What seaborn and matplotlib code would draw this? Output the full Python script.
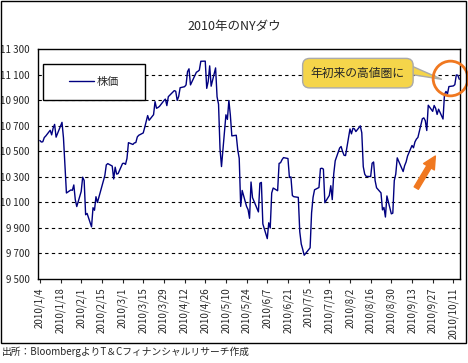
import pandas as pd
import matplotlib
matplotlib.use("Agg")
import matplotlib.pyplot as plt
import matplotlib.dates as mdates
import matplotlib.ticker as mticker
from matplotlib.patches import Rectangle, Polygon
import seaborn as sns

# NY Dow closes (Jan 4 - Oct 15, 2010)
jan = [10584, 10572, 10574, 10607, 10619, 10664, 10628, 10681, 10710, 10610,
       10726, 10604, 10390, 10173, 10197, 10194, 10236, 10121, 10067]
feb = [10185, 10297, 10271, 10003, 10013, 9908, 10058, 10038, 10144, 10099,
       10268, 10309, 10393, 10403, 10384, 10283, 10375, 10321, 10325]
mar = [10404, 10406, 10397, 10444, 10567, 10553, 10565, 10568, 10612, 10625,
       10643, 10686, 10734, 10779, 10742, 10786, 10888, 10836, 10842, 10851,
       10896, 10908, 10857]
apr = [10927, 10974, 10970, 10898, 10928, 10997, 11005, 11019, 11123, 11145,
       11019, 11092, 11118, 11125, 11135, 11204, 11205, 10992, 11046, 11168, 11009]
may = [11152, 10926, 10868, 10520, 10380, 10785, 10749, 10897, 10782, 10620,
       10625, 10511, 10444, 10068, 10193, 10067, 10043, 9975, 10259, 10137]
jun = [10025, 10250, 10256, 9931, 9816, 9940, 9899, 10173, 10212, 10191,
       10405, 10410, 10434, 10450, 10443, 10294, 10299, 10153, 10144, 10139,
       9870, 9774]
jul = [9732, 9686, 9744, 10018, 10139, 10198, 10216, 10364, 10367, 10360,
       10097, 10154, 10230, 10121, 10322, 10425, 10525, 10537, 10497, 10468, 10466]
aug = [10674, 10636, 10680, 10675, 10654, 10698, 10644, 10379, 10320, 10303,
       10302, 10406, 10416, 10271, 10214, 10174, 10041, 10060, 9985, 10150,
       10010, 10015]
sep = [10270, 10321, 10448, 10341, 10387, 10416, 10463, 10545, 10527, 10573,
       10595, 10608, 10754, 10761, 10739, 10662, 10860, 10812, 10858, 10836, 10788]
oct_ = [10829, 10752, 10944, 10968, 10948, 11006, 11011, 11021, 11097, 11095, 11063]

holidays = ["2010-01-18", "2010-02-15", "2010-04-02", "2010-05-31",
            "2010-07-05", "2010-09-06"]
dates = pd.bdate_range("2010-01-04", "2010-10-15", freq="C", holidays=holidays)
values = jan + feb + mar + apr + may + jun + jul + aug + sep + oct_
df = pd.DataFrame({"date": dates, "株価": values})

sns.set_style("white")
plt.rcParams["font.family"] = ["Noto Sans CJK JP", "DejaVu Sans"]

fig = plt.figure(figsize=(4.68, 3.63), dpi=100)
ax = fig.add_axes([38 / 468, 1 - 279 / 363, 422 / 468, 230 / 363])

sns.lineplot(data=df, x="date", y="株価", ax=ax, color="#000080", lw=1, legend=False)

ax.set_ylim(9500, 11300)
ax.set_yticks(range(9500, 11301, 200))
ax.yaxis.set_major_formatter(mticker.FuncFormatter(
    lambda v, p: f"{int(v) // 1000} {int(v) % 1000:03d}"))
ax.set_xlim(pd.Timestamp("2010-01-02 18:00"), pd.Timestamp("2010-10-15 12:00"))
xt = pd.date_range("2010-01-04", "2010-10-11", freq="14D")
ax.set_xticks(xt)
ax.set_xticklabels([f"{d.year}/{d.month}/{d.day}" for d in xt], rotation=90, fontsize=7)
ax.tick_params(axis="y", labelsize=7, length=0, pad=6)
ax.tick_params(axis="x", direction="out", length=3, width=0.8, bottom=True, pad=3)
ax.set_xlabel("")
ax.set_ylabel("")
for v in range(9700, 11300, 200):
    ax.axhline(v, color="black", lw=0.8, ls=(0, (3, 3)), zorder=1)
for s in ax.spines.values():
    s.set_color("black")
    s.set_linewidth(1)

# legend box
ax.add_patch(Rectangle((0.012, 0.778), 0.242, 0.157, transform=ax.transAxes,
                       fc="white", ec="black", lw=1, zorder=4))
ax.legend(handles=[plt.Line2D([], [], color="#000080", lw=1)], labels=["株価"],
          loc="center", bbox_to_anchor=(0.133, 0.857), frameon=False, fontsize=8,
          handlelength=2.2, handletextpad=0.3).set_zorder(5)

orange = "#F07820"
yellow = "#F5D54A"
# callout tail
ax.add_patch(Polygon([(0.846, 0.958), (0.957, 0.868), (0.882, 0.89)], closed=True,
                     transform=ax.transAxes, fc=yellow, ec="#AAAAAA", lw=1,
                     zorder=5, clip_on=False))
ax.text(0.758, 0.895, "年初来の高値圏に", transform=ax.transAxes, fontsize=8.5,
        ha="center", va="center", zorder=6,
        bbox=dict(boxstyle="round,pad=0.7,rounding_size=0.6", fc=yellow, ec="#AAAAAA", lw=1))
ax.plot([0.977], [0.875], "o", transform=ax.transAxes, ms=25, mfc="none",
        mec=orange, mew=2, clip_on=False, zorder=7)
ax.annotate("", xy=(0.945, 0.545), xycoords="axes fraction",
            xytext=(0.893, 0.385), textcoords="axes fraction", zorder=6,
            arrowprops=dict(arrowstyle="simple,head_length=0.9,head_width=0.9,tail_width=0.35",
                            fc=orange, ec=orange))

fig.suptitle("2010年のNYダウ", y=1 - 20 / 363, fontsize=9)
fig.patches.append(Rectangle((1 / 468, 1 - 343 / 363), 465 / 468, 342 / 363,
                             transform=fig.transFigure, fill=False, ec="black", lw=1))
fig.text(2 / 468, 1 - 352 / 363, "出所：BloombergよりT＆Cフィナンシャルリサーチ作成",
         fontsize=7, va="center", ha="left")

fig.savefig("out.png", dpi=100)
